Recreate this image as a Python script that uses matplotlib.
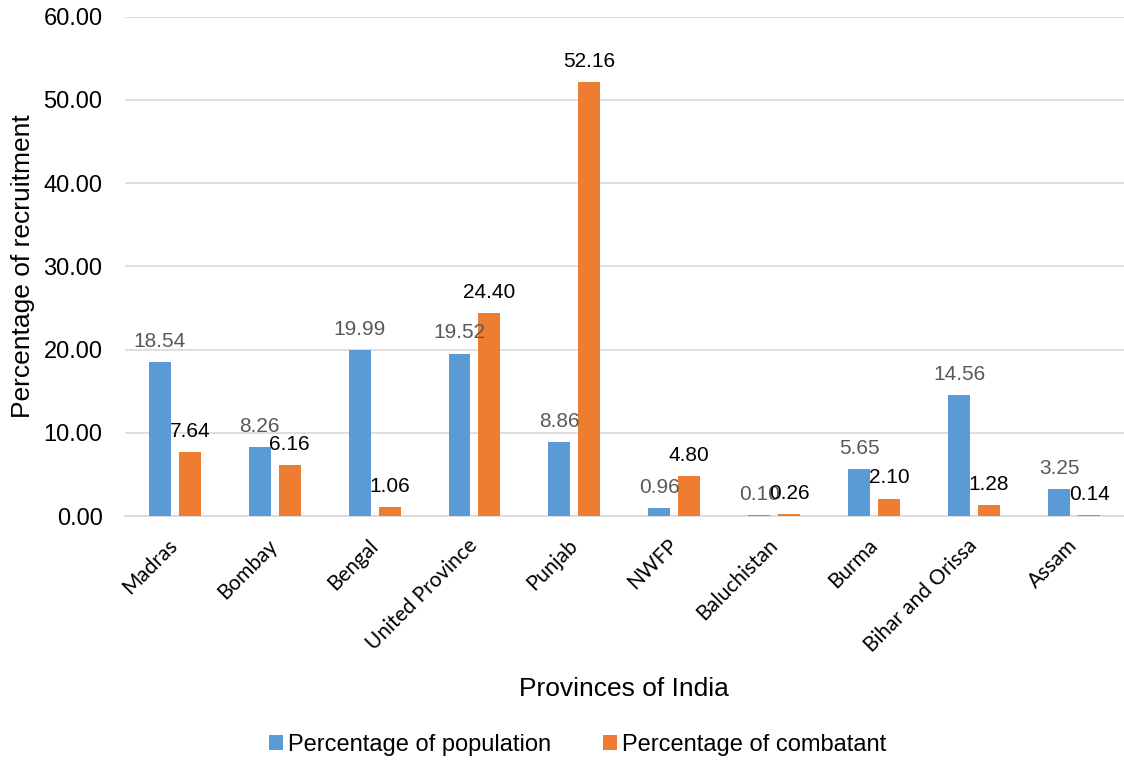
import matplotlib.pyplot as plt
import numpy as np

provinces = ['Madras', 'Bombay', 'Bengal', 'United Province', 'Punjab', 'NWFP',
             'Baluchistan', 'Burma', 'Bihar and Orissa', 'Assam']
population = [18.54, 8.26, 19.99, 19.52, 8.86, 0.96, 0.10, 5.65, 14.56, 3.25]
combatant = [7.64, 6.16, 1.06, 24.40, 52.16, 4.80, 0.26, 2.10, 1.28, 0.14]

plt.rcParams['font.family'] = ['Liberation Sans', 'DejaVu Sans']

fig = plt.figure(figsize=(11.24, 7.6), dpi=100)
ax = fig.add_axes([0.111, 0.321, 0.889, 0.657])

x = np.arange(len(provinces))
w = 0.22
b1 = ax.bar(x - 0.15, population, w, color='#5b9bd5', zorder=3)
b2 = ax.bar(x + 0.15, combatant, w, color='#ed7d31', zorder=3)

for bars, vals, col in [(b1, population, '#595959'), (b2, combatant, 'black')]:
    for r, v in zip(bars, vals):
        ax.annotate('%.2f' % v, (r.get_x() + r.get_width() / 2, v),
                    xytext=(0, 8), textcoords='offset points',
                    ha='center', va='bottom', fontsize=15, color=col, zorder=4)

ax.set_xlim(-0.5, len(provinces) - 0.5)
ax.set_ylim(0, 60)
ax.set_yticks(np.arange(0, 61, 10))
ax.set_yticklabels(['%.2f' % t for t in np.arange(0, 61, 10)], fontsize=17)
ax.yaxis.grid(True, color='#d9d9d9', linewidth=1.2, zorder=0)
ax.set_xticks(x)
ax.set_xticklabels(provinces, rotation=45, ha='right', va='center',
                   rotation_mode='anchor', fontsize=15, family='Lato')
ax.tick_params(axis='x', length=0, pad=19)
ax.tick_params(axis='y', length=0, pad=16)
for s in ['top', 'right', 'left']:
    ax.spines[s].set_visible(False)
ax.spines['bottom'].set_color('#d9d9d9')
ax.spines['bottom'].set_linewidth(1.2)

ax.set_ylabel('Percentage of recruitment', fontsize=19, labelpad=6)
ax.set_xlabel('Provinces of India', fontsize=19, labelpad=15)

fig.legend([b1, b2], ['Percentage of population', 'Percentage of combatant'],
           loc='center', bbox_to_anchor=(0.514, 0.02), ncol=2, frameon=False,
           fontsize=17, handlelength=0.6, handleheight=0.6, handletextpad=0.2,
           columnspacing=2.2)

fig.savefig('out.png', dpi=100)
